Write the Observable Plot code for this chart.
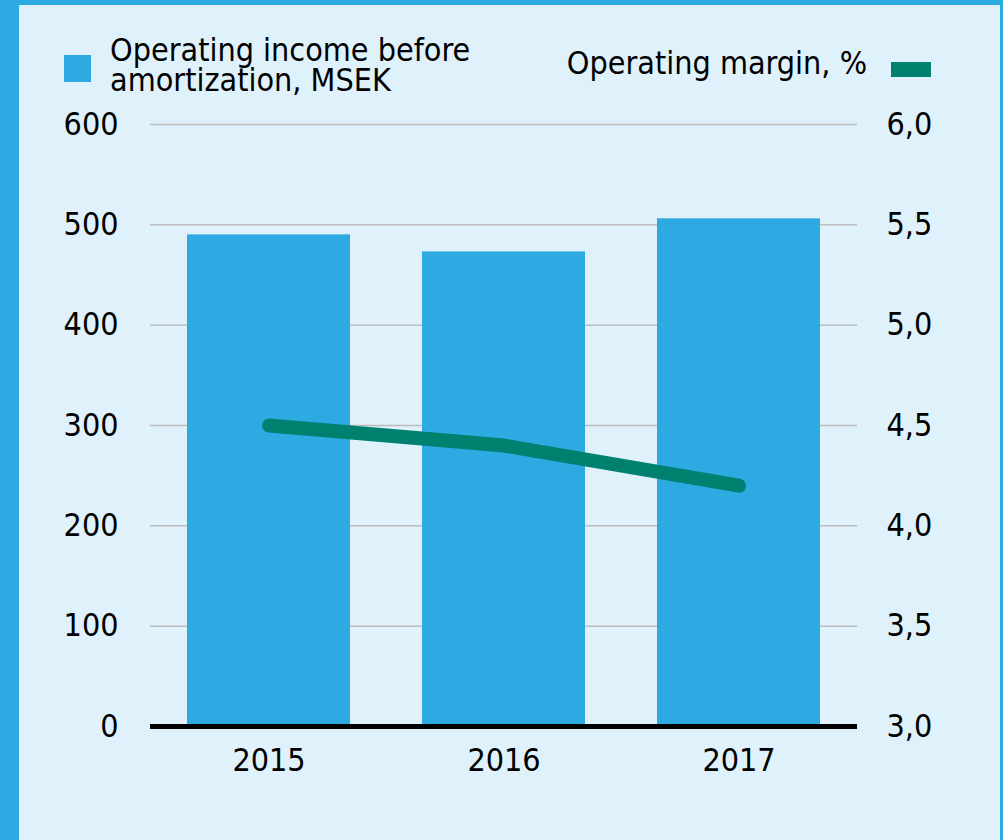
<!DOCTYPE html>
<html>
<head>
<meta charset="utf-8">
<script src="https://cdn.jsdelivr.net/npm/d3@7"></script>
<script src="https://cdn.jsdelivr.net/npm/@observablehq/plot@0.6"></script>
<style>
  html, body { margin: 0; padding: 0; }
  body { width: 1003px; height: 840px; overflow: hidden; background: #2eaae2; }
  #frame { position: absolute; left: 19px; top: 5px; width: 981px; height: 835px; background: #dff1fb; }
  #chart { position: absolute; left: 0; top: 0; }
  .lg { position: absolute; font-family: "DejaVu Sans Condensed", "DejaVu Sans", sans-serif; font-stretch: condensed; font-size: 32px; color: #000; line-height: 30px; white-space: nowrap; }
  .sw { position: absolute; }
</style>
</head>
<body>
<div id="frame"></div>
<div id="chart"></div>
<div class="sw" style="left:64px; top:55px; width:27px; height:27px; background:#2eaae2;"></div>
<div class="lg" id="lg1" style="left:110px; top:35px;">Operating income before<br>amortization, MSEK</div>
<div class="lg" id="lg2" style="right:136px; top:48px;">Operating margin, %</div>
<div class="sw" style="left:891px; top:62px; width:40px; height:15px; background:#00806f;"></div>
<script>
const years = ["2015", "2016", "2017"];
const income = [490, 473, 506];
const margin = [4.5, 4.4, 4.2];
const leftTicks = [0, 100, 200, 300, 400, 500, 600];
const rightTicks = [3.0, 3.5, 4.0, 4.5, 5.0, 5.5, 6.0];

const rMin = 3, rMax = 6, lMax = 600;
const toLeft = v => (v - rMin) / (rMax - rMin) * lMax;

const bars = years.map((y, i) => ({year: y, value: income[i]}));
const line = years.map((y, i) => ({year: y, value: toLeft(margin[i])}));
const rightMap = rightTicks.map(t => ({pos: toLeft(t), label: t.toFixed(1).replace(".", ",")}));

const font = "\"DejaVu Sans Condensed\", \"DejaVu Sans\", sans-serif";

const chart = Plot.plot({
  width: 1003,
  height: 840,
  marginLeft: 150,
  marginRight: 146,
  marginTop: 124,
  marginBottom: 114,
  style: {background: "transparent", fontFamily: font, fontStretch: "condensed", color: "#000"},
  x: {domain: years, paddingInner: 0.308, paddingOuter: 0.153, label: null},
  y: {domain: [0, 600], label: null},
  marks: [
    Plot.ruleY(leftTicks.filter(d => d > 0), {stroke: "#bdbdbd", strokeWidth: 1.5}),
    Plot.barY(bars, {x: "year", y: "value", fill: "#2eaae2"}),
    Plot.ruleY([0], {stroke: "#000", strokeWidth: 5}),
    Plot.line(line, {x: "year", y: "value", stroke: "#00806f", strokeWidth: 14, strokeLinecap: "round", strokeLinejoin: "round"}),
    Plot.axisY(leftTicks, {anchor: "left", tickSize: 0, tickPadding: 32, fontSize: 32, label: null}),
    Plot.axisY(rightMap.map(d => d.pos), {anchor: "right", tickSize: 0, tickPadding: 29, fontSize: 32, label: null,
      tickFormat: (d, i) => rightMap[i].label}),
    Plot.axisX({anchor: "bottom", tickSize: 0, tickPadding: 22, fontSize: 32, label: null})
  ]
});
document.getElementById("chart").appendChild(chart);
</script>
</body>
</html>
